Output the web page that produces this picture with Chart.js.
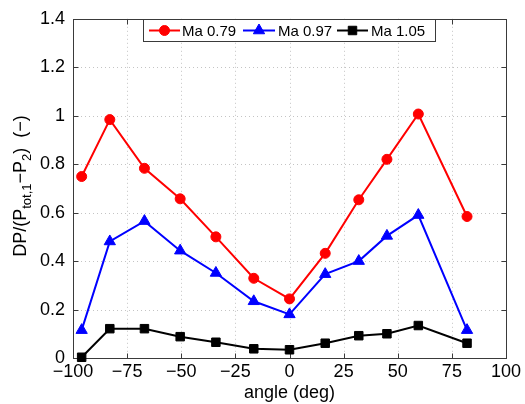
<!DOCTYPE html>
<html>
<head>
<meta charset="utf-8">
<script src="https://cdn.jsdelivr.net/npm/chart.js@4/dist/chart.umd.min.js"></script>
<style>
  html, body { margin: 0; padding: 0; background: #fff; }
  #wrap { width: 525px; height: 404px; }
</style>
</head>
<body>
<div id="wrap"><canvas id="c" width="525" height="404"></canvas></div>
<script>
// Measurement angles (deg)
const angles = [-96, -83, -67, -50.5, -34, -16.5, 0, 16.5, 32, 45, 59.5, 82];
// Normalised pressure difference for each Mach number
const ma079 = [0.749, 0.984, 0.783, 0.657, 0.500, 0.329, 0.244, 0.432, 0.653, 0.820, 1.007, 0.584];
const ma097 = [0.115, 0.481, 0.565, 0.443, 0.351, 0.234, 0.180, 0.346, 0.400, 0.504, 0.590, 0.115];
const ma105 = [0.003, 0.121, 0.121, 0.088, 0.065, 0.038, 0.034, 0.061, 0.092, 0.100, 0.134, 0.061];
const seriesNames = ['Ma 0.79', 'Ma 0.97', 'Ma 1.05'];
const xTicks = [-100, -75, -50, -25, 0, 25, 50, 75, 100];
const yTicks = [0, 0.2, 0.4, 0.6, 0.8, 1.0, 1.2, 1.4];

const FONT = '"Liberation Sans", Arial, Helvetica, sans-serif';
const AXIS_COLOR = '#3a3a3a';

const toPoints = ys => angles.map((a, i) => ({ x: a, y: ys[i] }));
const fmtX = v => (v < 0 ? '\u2212' + Math.abs(v) : String(v));
const fmtY = v => String(Number(v.toFixed(1)));

const styles = [
  { color: '#ff0000', pointStyle: 'circle', radius: 5 },
  { color: '#0000ff', pointStyle: 'triangle', radius: 6.5 },
  { color: '#000000', pointStyle: 'rect', radius: 6 }
];
const series = [ma079, ma097, ma105];

// Draws a marker of the given style centred on (x, y)
function drawMarker(ctx, style, x, y, r, color) {
  ctx.save();
  ctx.fillStyle = color;
  ctx.strokeStyle = color;
  ctx.lineWidth = 1;
  ctx.beginPath();
  if (style === 'circle') {
    ctx.arc(x, y, r, 0, Math.PI * 2);
  } else if (style === 'triangle') {
    ctx.moveTo(x, y - r);
    ctx.lineTo(x + r * Math.sin(Math.PI / 3), y + r / 2);
    ctx.lineTo(x - r * Math.sin(Math.PI / 3), y + r / 2);
    ctx.closePath();
  } else {
    const s = Math.SQRT1_2 * r;
    ctx.rect(x - s, y - s, 2 * s, 2 * s);
  }
  ctx.fill();
  ctx.stroke();
  ctx.restore();
}

// Dotted grid, boxed axes and inward tick marks
const framePlugin = {
  id: 'frame',
  beforeDatasetsDraw(chart) {
    const { ctx, chartArea: a, scales: { x, y } } = chart;
    ctx.save();
    ctx.strokeStyle = '#c4c4c4';
    ctx.lineWidth = 1;
    ctx.setLineDash([1, 3]);
    xTicks.forEach(v => {
      const px = Math.round(x.getPixelForValue(v)) + 0.5;
      if (px <= a.left + 1 || px >= a.right - 1) return;
      ctx.beginPath(); ctx.moveTo(px, a.top); ctx.lineTo(px, a.bottom); ctx.stroke();
    });
    yTicks.forEach(v => {
      const py = Math.round(y.getPixelForValue(v)) + 0.5;
      if (py <= a.top + 1 || py >= a.bottom - 1) return;
      ctx.beginPath(); ctx.moveTo(a.left, py); ctx.lineTo(a.right, py); ctx.stroke();
    });
    ctx.setLineDash([]);
    ctx.strokeStyle = AXIS_COLOR;
    const L = Math.round(a.left) + 0.5, R = Math.round(a.right) + 0.5;
    const T = Math.round(a.top) + 0.5, B = Math.round(a.bottom) + 0.5;
    ctx.strokeRect(L, T, R - L, B - T);
    const tl = 5;
    ctx.beginPath();
    xTicks.forEach(v => {
      const px = Math.round(x.getPixelForValue(v)) + 0.5;
      ctx.moveTo(px, B); ctx.lineTo(px, B - tl);
      ctx.moveTo(px, T); ctx.lineTo(px, T + tl);
    });
    yTicks.forEach(v => {
      const py = Math.round(y.getPixelForValue(v)) + 0.5;
      ctx.moveTo(L, py); ctx.lineTo(L + tl, py);
      ctx.moveTo(R, py); ctx.lineTo(R - tl, py);
    });
    ctx.stroke();
    ctx.restore();
  },
  afterDraw(chart) {
    const { ctx } = chart;
    // Y axis title with subscripts
    const big = '18px ' + FONT, small = '13px ' + FONT;
    const parts = [
      ['DP/(P', big, 0], ['tot,1', small, 5], ['\u2212P', big, 0], ['2', small, 5], [')  (\u2212)', big, 0]
    ];
    ctx.save();
    let total = 0;
    parts.forEach(p => { ctx.font = p[1]; total += ctx.measureText(p[0]).width; });
    ctx.translate(26, 186);
    ctx.rotate(-Math.PI / 2);
    ctx.fillStyle = '#000';
    ctx.textBaseline = 'alphabetic';
    let cx = -total / 2;
    parts.forEach(p => {
      ctx.font = p[1];
      ctx.fillText(p[0], cx, p[2]);
      cx += ctx.measureText(p[0]).width;
    });
    ctx.restore();

    // Legend box
    ctx.save();
    ctx.fillStyle = '#fff';
    ctx.fillRect(143.5, 19.5, 292, 22);
    ctx.strokeStyle = AXIS_COLOR;
    ctx.lineWidth = 1;
    ctx.strokeRect(143.5, 19.5, 292, 22);
    const entries = [[149, 180, 182], [243, 275, 278], [337, 368, 371]];
    const ly = 30.5;
    entries.forEach((e, i) => {
      const st = styles[i];
      ctx.strokeStyle = st.color;
      ctx.lineWidth = 2;
      ctx.beginPath(); ctx.moveTo(e[0], ly); ctx.lineTo(e[1], ly); ctx.stroke();
      drawMarker(ctx, st.pointStyle, (e[0] + e[1]) / 2, ly, st.radius, st.color);
      ctx.fillStyle = '#000';
      ctx.font = '15px ' + FONT;
      ctx.textBaseline = 'middle';
      ctx.fillText(seriesNames[i], e[2], ly + 1);
    });
    ctx.restore();
  }
};

new Chart(document.getElementById('c'), {
  type: 'line',
  data: {
    datasets: series.map((ys, i) => ({
      label: seriesNames[i],
      data: toPoints(ys),
      borderColor: styles[i].color,
      backgroundColor: styles[i].color,
      borderWidth: 2,
      pointStyle: styles[i].pointStyle,
      pointRadius: styles[i].radius,
      pointBorderWidth: 1,
      tension: 0,
      clip: false
    }))
  },
  options: {
    responsive: false,
    animation: false,
    devicePixelRatio: 1,
    layout: { padding: { top: 14, right: 19, left: 0, bottom: 0 } },
    plugins: { legend: { display: false }, tooltip: { enabled: false } },
    scales: {
      x: {
        type: 'linear',
        min: -100, max: 100,
        afterBuildTicks: s => { s.ticks = xTicks.map(v => ({ value: v })); },
        afterFit: s => { s.height = 46; },
        grid: { display: false, drawTicks: false },
        border: { display: false },
        ticks: { callback: fmtX, color: '#000', font: { family: FONT, size: 18 }, padding: 3, maxRotation: 0, autoSkip: false },
        title: { display: true, text: 'angle (deg)', color: '#000', font: { family: FONT, size: 18 }, padding: { top: 0, bottom: 0 } }
      },
      y: {
        type: 'linear',
        min: 0, max: 1.4,
        afterBuildTicks: s => { s.ticks = yTicks.map(v => ({ value: v })); },
        afterFit: s => { s.width = 73; },
        grid: { display: false, drawTicks: false },
        border: { display: false },
        ticks: { callback: fmtY, color: '#000', font: { family: FONT, size: 18 }, padding: 8, autoSkip: false }
      }
    }
  },
  plugins: [framePlugin]
});
</script>
</body>
</html>
